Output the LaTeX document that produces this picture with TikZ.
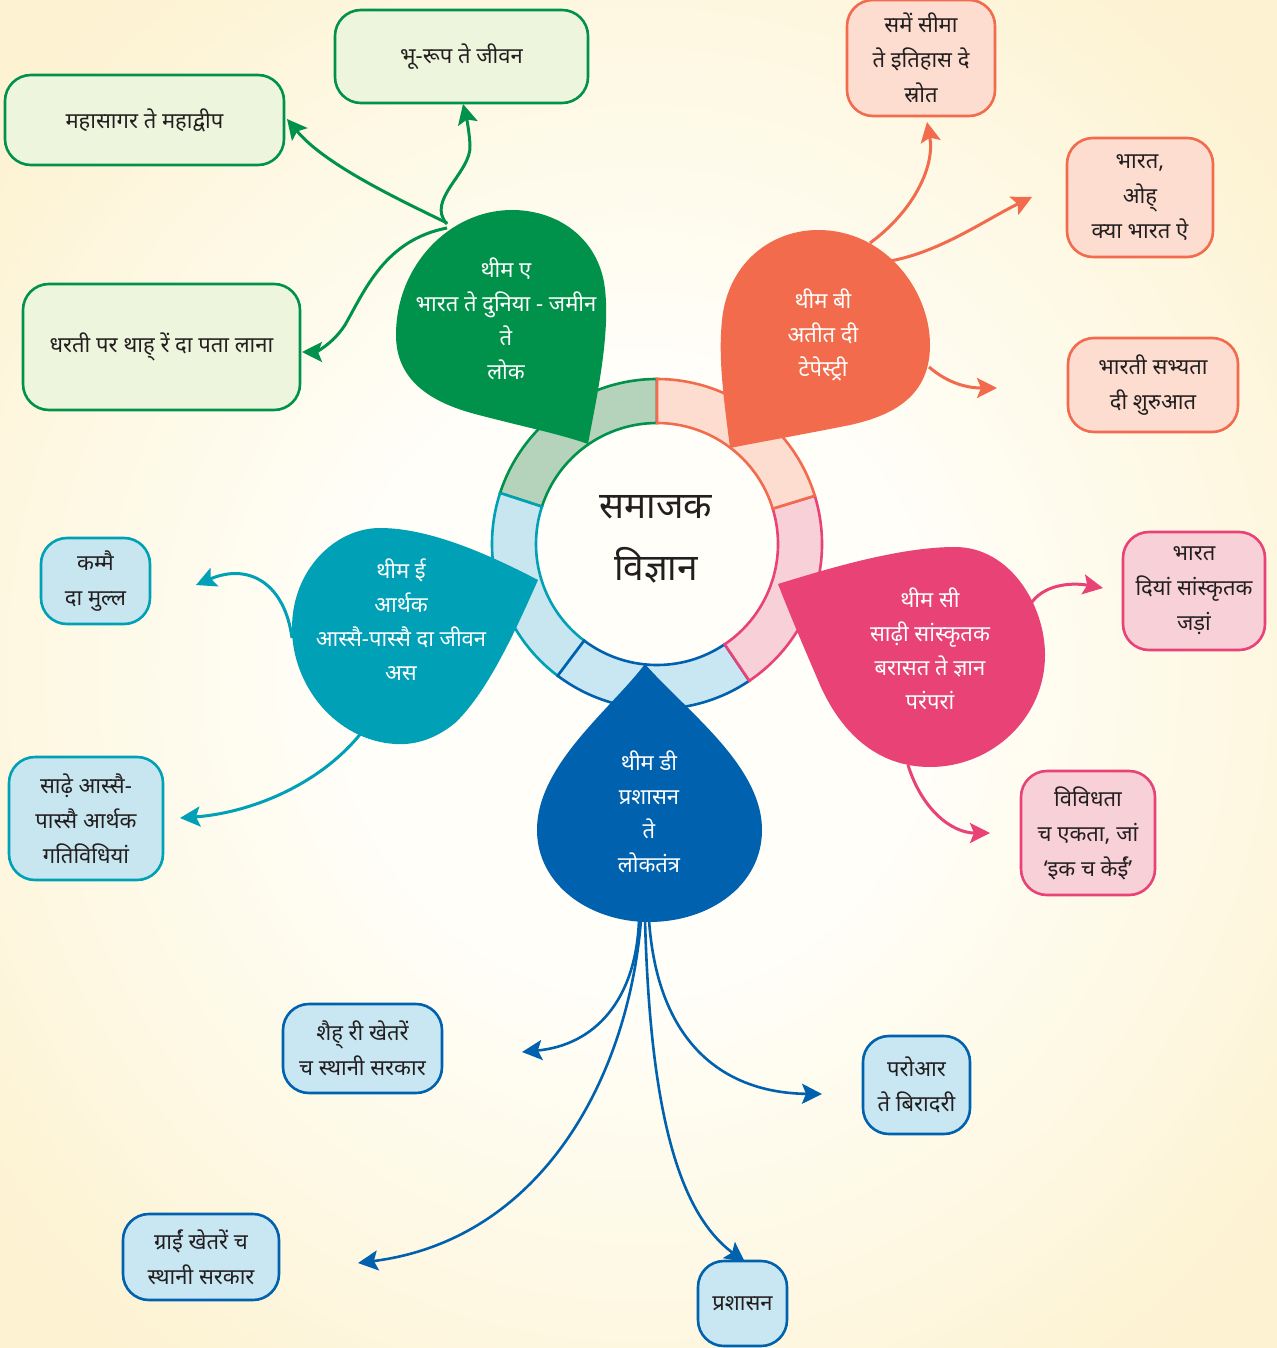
\documentclass[tikz,border=0pt]{standalone}
\usepackage{fontspec}
\setmainfont[Script=Devanagari]{Noto Sans}
\usetikzlibrary{arrows.meta}
\definecolor{bgw}{HTML}{FFFEF9}
\definecolor{bgm}{HTML}{FEF9E6}
\definecolor{bgc}{HTML}{FDF2D2}
\definecolor{txt}{HTML}{231F20}
\definecolor{cA}{HTML}{00924A}
\definecolor{cAl}{HTML}{EEF5DD}
\definecolor{cAr}{HTML}{B5D3BB}
\definecolor{cB}{HTML}{F26B4D}
\definecolor{cBl}{HTML}{FDDDD0}
\definecolor{cC}{HTML}{E84277}
\definecolor{cCl}{HTML}{F8D0D8}
\definecolor{cD}{HTML}{0061AE}
\definecolor{cDl}{HTML}{C8E7F2}
\definecolor{cE}{HTML}{00A0B6}
\definecolor{cEl}{HTML}{C8E6EF}
\pgfdeclareradialshading{bgshade}{\pgfpoint{0bp}{0bp}}{color(0bp)=(bgw); color(11bp)=(bgw); color(22bp)=(bgm); color(32bp)=(bgc); color(50bp)=(bgc)}
\newcommand\bxfont{\fontsize{11}{17.5}\selectfont}
\newcommand\blfont{\fontsize{11}{17}\selectfont}
\newcommand\ctfont{\fontsize{18.5}{31}\selectfont}
\newcommand\ringseg[4]{\filldraw[fill=#1,draw=#2,line width=1.3pt] ([shift={(#3:82.5pt)}]C) arc[start angle=#3, end angle=#4, radius=82.5pt] -- ([shift={(#4:60.5pt)}]C) arc[start angle=#4, end angle=#3, radius=60.5pt] -- cycle;}
\begin{document}
\begin{tikzpicture}[x=0.5pt,y=-0.5pt,
  box/.style={rounded corners=13pt, line width=1.3pt, align=center, inner sep=2pt, text=txt, font=\bxfont},
  gbox/.style={box, draw=cA, fill=cAl},
  obox/.style={box, draw=cB, fill=cBl},
  pbox/.style={box, draw=cC, fill=cCl},
  tbox/.style={box, draw=cE, fill=cEl},
  bbox/.style={box, draw=cD, fill=cDl},
  blobtxt/.style={align=center, text=white, font=\blfont},
  conn/.style={line width=1.5pt, -{Stealth[length=10pt,width=10pt,inset=2pt]}},
  garr/.style={conn, draw=cA},
  oarr/.style={conn, draw=cB},
  parr/.style={conn, draw=cC},
  tarr/.style={conn, draw=cE},
  barr/.style={conn, line width=1.3pt, draw=cD}]
\useasboundingbox (0,0) rectangle (1277,1348);
\shade[shading=bgshade] (0,0) rectangle (1277,1348);

% central ring
\coordinate (C) at (657,544);
\ringseg{cAr}{cA}{90}{162}
\ringseg{cEl}{cE}{162}{233}
\ringseg{cDl}{cD}{233}{304}
\ringseg{cCl}{cC}{304}{377}
\ringseg{cBl}{cB}{17}{90}
\node[align=center, text=txt, font=\ctfont] (centre) at (656,539) {समाजक\\विज्ञान};

% blobs
\fill[cA] (588,444) .. controls (596,400) and (612,330) .. (604,282) .. controls (595,235) and (555,210) .. (512,210) .. controls (450,210) and (396,265) .. (396,335) .. controls (396,380) and (430,402) .. (475,414) .. controls (520,426) and (560,434) .. (588,444) -- cycle;
\fill[cB] (730,448) .. controls (724,400) and (718,360) .. (722,320) .. controls (728,262) and (772,230) .. (818,230) .. controls (885,230) and (930,290) .. (930,345) .. controls (930,395) and (895,415) .. (850,425) .. controls (800,435) and (760,442) .. (730,448) -- cycle;
\fill[cC] (778,584) .. controls (830,568) and (900,547) .. (955,547) .. controls (1010,547) and (1045,605) .. (1045,655) .. controls (1045,718) and (992,767) .. (930,767) .. controls (875,767) and (840,730) .. (820,685) .. controls (805,650) and (790,615) .. (778,584) -- cycle;
\fill[cE] (538,580) .. controls (520,620) and (490,690) .. (455,723) .. controls (432,742) and (410,745) .. (395,744) .. controls (335,740) and (292,685) .. (292,628) .. controls (292,570) and (335,528) .. (380,528) .. controls (430,528) and (490,555) .. (538,580) -- cycle;
\fill[cD] (645,664) .. controls (610,710) and (537,765) .. (537,830) .. controls (537,885) and (590,922) .. (649,922) .. controls (710,922) and (762,885) .. (762,830) .. controls (762,765) and (685,710) .. (645,664) -- cycle;

\node[blobtxt] (tA) at (506,319) {थीम ए\\भारत ते दुनिया - जमीन\\ते\\लोक};
\node[blobtxt] (tB) at (823,335) {थीम बी\\अतीत दी\\टेपेस्ट्री};
\node[blobtxt] (tC) at (930,649) {थीम सी\\साढ़ी सांस्कृतक\\बरासत ते ज्ञान\\परंपरां};
\node[blobtxt] (tD) at (649,812) {थीम डी\\प्रशासन\\ते\\लोकतंत्र};
\node[blobtxt] (tE) at (401,620) {थीम ई\\आर्थक\\आस्सै-पास्सै दा जीवन\\अस};

% boxes
\node[gbox, minimum width=126.5pt, minimum height=46.5pt] (b1) at (461.5,56.5) {भू-रूप ते जीवन};
\node[gbox, minimum width=139.5pt, minimum height=45pt] (b2) at (144.5,120) {महासागर ते महाद्वीप};
\node[gbox, minimum width=138.5pt, minimum height=63pt] (b3) at (161.5,347) {धरती पर थाह् रें दा पता लाना};
\node[obox, minimum width=74pt, minimum height=58pt] (b4) at (921,58) {समें सीमा\\ते इतिहास दे\\स्रोत};
\node[obox, minimum width=73pt, minimum height=59.5pt] (b5) at (1140,197.5) {भारत,\\ओह्\\क्या भारत ऐ};
\node[obox, minimum width=85pt, minimum height=47pt] (b6) at (1153,385) {भारती सभ्यता\\दी शुरुआत};
\node[pbox, minimum width=71pt, minimum height=59pt] (b7) at (1194,591) {भारत\\दियां सांस्कृतक\\जड़ां};
\node[pbox, minimum width=67pt, minimum height=62pt] (b8) at (1088,833) {विविधता\\च एकता, जां\\‘इक च केईं’};
\node[tbox, minimum width=54.5pt, minimum height=43pt] (b9) at (95.5,581) {कम्मै\\दा मुल्ल};
\node[tbox, minimum width=77pt, minimum height=61.5pt] (b10) at (86,818.5) {साढ़े आस्सै-\\पास्सै आर्थक\\गतिविधियां};
\node[bbox, minimum width=79.5pt, minimum height=44.5pt] (b11) at (362.5,1048.5) {शैह् री खेतरें\\च स्थानी सरकार};
\node[bbox, minimum width=53.5pt, minimum height=49pt] (b12) at (916.5,1085) {परोआर\\ते बिरादरी};
\node[bbox, minimum width=78pt, minimum height=43pt] (b13) at (201,1257) {ग्राईं खेतरें च\\स्थानी सरकार};
\node[bbox, minimum width=44.5pt, minimum height=42.5pt] (b14) at (742.5,1303.5) {प्रशासन};

% connector anchor points
\coordinate (sA1) at (447,223);
\coordinate (sA2) at (447,224);
\coordinate (sA3) at (447,228);
\coordinate (eA1) at (287,119);
\coordinate (eA2) at (463,104);
\coordinate (eA3) at (302,352);
\coordinate (sB1) at (870,243);
\coordinate (sB2) at (890,261);
\coordinate (sB3) at (929,367);
\coordinate (eB1) at (927,122);
\coordinate (eB2) at (1032,197);
\coordinate (eB3) at (997,388);
\coordinate (sC1) at (1030,605);
\coordinate (sC2) at (908,765);
\coordinate (eC1) at (1103,588);
\coordinate (eC2) at (990,833);
\coordinate (sE1) at (292,638);
\coordinate (sE2) at (362,732);
\coordinate (eE1) at (196,585);
\coordinate (eE2) at (180,818);
\coordinate (sD) at (643,920);
\coordinate (eD1) at (522,1052);
\coordinate (eD2) at (358,1263);
\coordinate (eD3) at (745,1262);
\coordinate (eD4) at (822,1094);

% connectors
\draw[garr] (sA1) .. controls (400,200) and (325,165) .. (eA1);
\draw[garr] (sA2) .. controls (425,200) and (472,172) .. (470,145) .. controls (469,128) and (466,116) .. (eA2);
\draw[garr] (sA3) .. controls (385,240) and (365,290) .. (345,325) .. controls (332,345) and (315,352) .. (eA3);
\draw[oarr] (sB1) .. controls (915,210) and (935,165) .. (eB1);
\draw[oarr] (sB2) .. controls (940,252) and (985,220) .. (eB2);
\draw[oarr] (sB3) .. controls (950,385) and (970,388) .. (eB3);
\draw[parr] (sC1) .. controls (1042,585) and (1070,582) .. (eC1);
\draw[parr] (sC2) .. controls (922,810) and (952,833) .. (eC2);
\draw[tarr] (sE1) .. controls (285,585) and (250,562) .. (eE1);
\draw[tarr] (sE2) .. controls (320,785) and (250,813) .. (eE2);
\draw[barr] ([xshift=-2]sD) .. controls (636,1000) and (595,1045) .. (eD1);
\draw[barr] ([xshift=-1]sD) .. controls (628,1080) and (540,1240) .. (eD2);
\draw[barr] ([xshift=1]sD) .. controls (650,1100) and (675,1210) .. (eD3);
\draw[barr] ([xshift=3]sD) .. controls (658,1050) and (730,1093) .. (eD4);
\end{tikzpicture}
\end{document}
